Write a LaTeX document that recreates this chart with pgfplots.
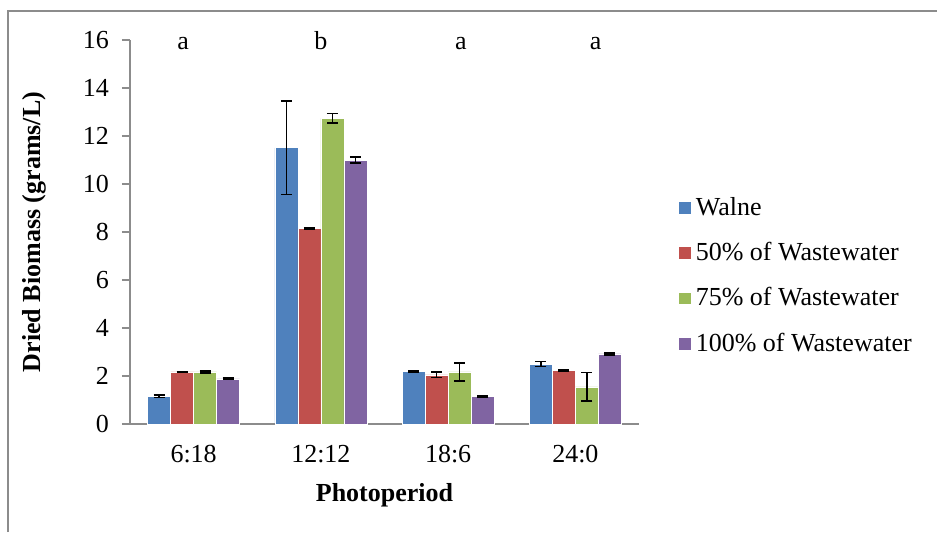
\documentclass[border=0pt]{standalone}
\usepackage{pgfplots}
\pgfplotsset{compat=1.18}
\usepackage{fontspec}
\setmainfont{Liberation Serif}
\definecolor{cA}{HTML}{4F81BD}
\definecolor{cB}{HTML}{C0504D}
\definecolor{cC}{HTML}{9BBB59}
\definecolor{cD}{HTML}{8064A2}
\definecolor{axg}{HTML}{8C8C8C}
\begin{document}
\begin{tikzpicture}[font=\fontsize{13}{15}\selectfont]
\useasboundingbox (0,0) rectangle (468.5pt,-266pt);
\draw[axg, line width=0.8pt] (4pt,-266pt) -- (4pt,-5.5pt) -- (468.5pt,-5.5pt);
\begin{axis}[
  at={(65pt,-212pt)}, anchor=south west,
  scale only axis, width=254.5pt, height=192pt,
  xmin=-0.5, xmax=3.5, ymin=0, ymax=16,
  ytick={0,2,...,16},
  xtick={0,1,2,3},
  xticklabels={6:18,12:12,18:6,24:0},
  axis x line*=bottom, axis y line*=left,
  axis line style={axg, line width=0.8pt, -},
  tick align=outside,
  major tick length=4pt,
  ytick style={axg, line width=0.8pt},
  xtick style={draw=none},
  extra x ticks={-0.5,0.5,1.5,2.5,3.5},
  extra x tick labels={},
  extra x tick style={tick style={axg, line width=0.8pt, draw=axg}, major tick length=4pt},
  /pgf/number format/assume math mode=true,
  ticklabel style={font=\fontsize{13}{15}\selectfont},
  yticklabel style={xshift=-3pt},
  xticklabel style={yshift=-3pt},
  ylabel={\textbf{Dried Biomass (grams/L)}},
  xlabel={\textbf{Photoperiod}},
  ylabel style={at={(axis description cs:-0.187,0.5)}, anchor=center, font=\fontsize{13}{15}\selectfont},
  xlabel style={at={(axis description cs:0.5,-0.185)}, anchor=center, font=\fontsize{13}{15}\selectfont},
  ybar=0pt, bar width=11.5pt,
  error bars/error bar style={black, line width=0.8pt},
  error bars/error mark options={rotate=90, mark size=2.8pt, line width=0.8pt, black},
  legend style={at={(1.0766,0.602)}, anchor=north west, draw=none, fill=none,
    row sep=8pt, font=\fontsize{13}{15}\selectfont, inner sep=0pt},
  legend cell align=left,
  legend image code/.code={\fill[#1] (0pt,-3.2pt) rectangle (6.4pt,3.2pt);},
  clip=false,
]
\addplot[fill=cA, draw=white, line width=0.3pt, error bars/.cd, y dir=both, y explicit]
  coordinates {(0,1.15) +- (0,0.05) (1,11.51) +- (0,1.95) (2,2.19) +- (0,0.03) (3,2.50) +- (0,0.10)};
\addplot[fill=cB, draw=white, line width=0.3pt, error bars/.cd, y dir=both, y explicit]
  coordinates {(0,2.17) +- (0,0.02) (1,8.15) +- (0,0.03) (2,2.05) +- (0,0.12) (3,2.22) +- (0,0.02)};
\addplot[fill=cC, draw=white, line width=0.3pt, error bars/.cd, y dir=both, y explicit]
  coordinates {(0,2.17) +- (0,0.04) (1,12.74) +- (0,0.20) (2,2.17) +- (0,0.38) (3,1.55) +- (0,0.60)};
\addplot[fill=cD, draw=white, line width=0.3pt, error bars/.cd, y dir=both, y explicit]
  coordinates {(0,1.88) +- (0,0.03) (1,11.00) +- (0,0.13) (2,1.15) +- (0,0.02) (3,2.92) +- (0,0.05)};
\legend{Walne, 50\% of Wastewater, 75\% of Wastewater, 100\% of Wastewater}
\node[anchor=base, yshift=-4.5pt, inner sep=0pt] at (axis cs:-0.083,16) {a};
\node[anchor=base, yshift=-4.5pt, inner sep=0pt] at (axis cs:1.0,16) {b};
\node[anchor=base, yshift=-4.5pt, inner sep=0pt] at (axis cs:2.1,16) {a};
\node[anchor=base, yshift=-4.5pt, inner sep=0pt] at (axis cs:3.16,16) {a};
\end{axis}
\end{tikzpicture}
\end{document}
